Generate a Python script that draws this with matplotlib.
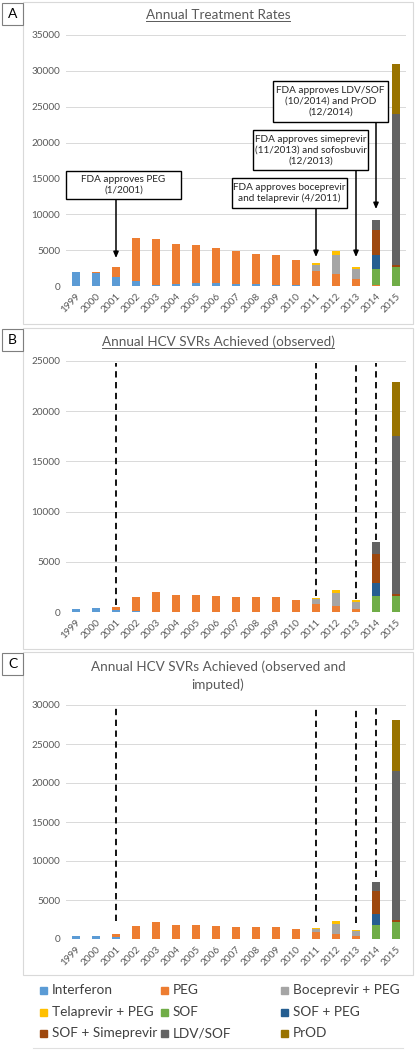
import matplotlib
matplotlib.use("Agg")
import matplotlib.pyplot as plt
from matplotlib.patches import Rectangle
from matplotlib.lines import Line2D

plt.rcParams['font.family'] = ['Lato', 'DejaVu Sans']

W, H = 415, 1050

years = [str(y) for y in range(1999, 2016)]
series = ['Interferon', 'PEG', 'Boceprevir + PEG', 'Telaprevir + PEG', 'SOF',
          'SOF + PEG', 'SOF + Simeprevir', 'LDV/SOF', 'PrOD']
colors = ['#5B9BD5', '#ED7D31', '#A5A5A5', '#FFC000', '#70AD47',
          '#255E91', '#9E480E', '#636363', '#997300']

# panel A: annual treatment rates
treated = {
    'Interferon': [2000, 1850, 1300, 740, 200, 250, 350, 350, 300, 250, 150, 100, 0, 0, 0, 0, 0],
    'PEG': [0, 100, 1400, 5910, 6420, 5560, 5370, 4950, 4580, 4260, 4130, 3520, 2090, 1630, 930, 140, 0],
    'Boceprevir + PEG': [0]*12 + [840, 2650, 1390, 0, 0],
    'Telaprevir + PEG': [0]*12 + [280, 600, 380, 0, 0],
    'SOF': [0]*15 + [2280, 2700],
    'SOF + PEG': [0]*15 + [1860, 0],
    'SOF + Simeprevir': [0]*15 + [3530, 230],
    'LDV/SOF': [0]*15 + [1390, 21000],
    'PrOD': [0]*16 + [6970],
}

# panel B: SVRs observed
svr_obs = {
    'Interferon': [330, 365, 230, 60, 30, 30, 30, 40, 30, 30, 20, 10, 0, 0, 0, 0, 0],
    'PEG': [0, 0, 300, 1470, 1960, 1700, 1700, 1590, 1430, 1430, 1480, 1190, 830, 600, 270, 0, 0],
    'Boceprevir + PEG': [0]*12 + [430, 1290, 760, 0, 0],
    'Telaprevir + PEG': [0]*12 + [140, 270, 170, 0, 0],
    'SOF': [0]*15 + [1630, 1630],
    'SOF + PEG': [0]*15 + [1300, 0],
    'SOF + Simeprevir': [0]*15 + [2890, 200],
    'LDV/SOF': [0]*15 + [1130, 15720],
    'PrOD': [0]*16 + [5320],
}

# panel C: SVRs observed and imputed
svr_imp = {
    'Interferon': [340, 340, 210, 60, 30, 30, 30, 40, 30, 30, 20, 10, 0, 0, 0, 0, 0],
    'PEG': [0, 0, 390, 1610, 2160, 1810, 1810, 1670, 1510, 1470, 1520, 1230, 860, 600, 340, 0, 0],
    'Boceprevir + PEG': [0]*12 + [430, 1370, 730, 0, 0],
    'Telaprevir + PEG': [0]*12 + [170, 340, 130, 0, 0],
    'SOF': [0]*15 + [1760, 2190],
    'SOF + PEG': [0]*15 + [1410, 0],
    'SOF + Simeprevir': [0]*15 + [2960, 210],
    'LDV/SOF': [0]*15 + [1200, 19200],
    'PrOD': [0]*16 + [6430],
}

# approval markers (year index, arrow tip / line bottom)
approval_idx = [2, 12, 14, 15]
approval_text = ['FDA approves PEG\n(1/2001)',
                 'FDA approves boceprevir\nand telaprevir (4/2011)',
                 'FDA approves simeprevir\n(11/2013) and sofosbuvir\n(12/2013)',
                 'FDA approves LDV/SOF\n(10/2014) and PrOD\n(12/2014)']
arrow_tip_a = [3900, 4040, 4040, 10730]
line_top_b = 24800
line_bottom_b = [660, 1560, 1330, 7150]
line_top_c = 29600
line_bottom_c = [2300, 2190, 2100, 8000]

fig = plt.figure(figsize=(W / 100, H / 100), dpi=100)
GRAY = '#595959'


def frac(x, y):
    return x / W, 1 - y / H


def box(x0, y0, x1, y1, ec, lw=0.8):
    fx, fy = frac(x0, y1)
    fig.add_artist(Rectangle((fx, fy), (x1 - x0) / W, (y1 - y0) / H, transform=fig.transFigure,
                             fill=False, ec=ec, lw=lw))


def make_axes(top, bottom):
    l, b = frac(66, bottom)
    return fig.add_axes([l, b, (406 - 66) / W, (bottom - top) / H])


def stacked(ax, data, ymax):
    x = list(range(len(years)))
    base = [0] * len(years)
    for name, c in zip(series, colors):
        vals = data[name]
        ax.bar(x, vals, 0.4, bottom=base, color=c, zorder=2)
        base = [b + v for b, v in zip(base, vals)]
    ax.set_xlim(-0.5, len(years) - 0.5)
    ax.set_ylim(0, ymax)
    ax.set_yticks(range(0, ymax + 1, 5000))
    ax.set_xticks(x)
    ax.set_xticklabels(years, rotation=45, ha='right', rotation_mode='anchor')
    ax.tick_params(length=0, labelsize=7.2, labelcolor=GRAY, pad=4)
    ax.grid(axis='y', color='#D9D9D9', lw=0.7, zorder=0)
    for s in ax.spines.values():
        s.set_visible(False)


def title(text, x, y, underline=False, size=9.7):
    t = fig.text(x / W, 1 - y / H, text, ha='center', va='center', fontsize=size,
                 color=GRAY, linespacing=1.5)
    if underline:
        fig.canvas.draw()
        bb = t.get_window_extent()
        yl = bb.y0 / H + 0.2 / H
        fig.add_artist(Line2D([bb.x0 / W, bb.x1 / W], [yl, yl], color=GRAY, lw=0.7,
                              transform=fig.transFigure))


# panel frames and letter labels
for (y0, y1, letter) in [(2, 324, 'A'), (328, 649, 'B'), (652, 975, 'C')]:
    box(23, y0, 413, y1, '#D9D9D9')
    box(2, y0 + 1, 23, y0 + 23, '#7F7F7F')
    fx, fy = frac(12.5, y0 + 12)
    fig.text(fx, fy, letter, ha='center', va='center', fontsize=10, color='black')

# A
axA = make_axes(35, 286)
stacked(axA, treated, 35000)
title('Annual Treatment Rates', 218, 15, underline=True)
rects = [(-0.5, 12130, 5.75, 3900), (7.8, 10870, 5.75, 4190),
         (8.85, 16170, 5.75, 5580), (9.85, 22860, 5.75, 5720)]
for (rx, ry, rw, rh), txt, i, tip in zip(rects, approval_text, approval_idx, arrow_tip_a):
    axA.add_patch(Rectangle((rx, ry), rw, rh, fc='white', ec='black', lw=1.0, zorder=4,
                            clip_on=False))
    axA.text(rx + rw / 2, ry + rh / 2, txt, ha='center', va='center', fontsize=7.2,
             color='#262626', zorder=5, linespacing=1.25)
    axA.annotate('', xy=(i, tip), xytext=(i, ry), zorder=3,
                 arrowprops=dict(arrowstyle='-|>,head_length=0.35,head_width=0.15',
                                 color='black', lw=1.1, shrinkA=0, shrinkB=0))

# B
axB = make_axes(361, 612)
stacked(axB, svr_obs, 25000)
title('Annual HCV SVRs Achieved (observed)', 218, 342, underline=True)
for i, yb in zip(approval_idx, line_bottom_b):
    axB.plot([i, i], [yb, line_top_b], color='black', lw=1.3, ls=(0, (3.5, 2.5)), zorder=3)

# C
axC = make_axes(705, 939)
stacked(axC, svr_imp, 30000)
title('Annual HCV SVRs Achieved (observed and\nimputed)', 218, 676)
for i, yb in zip(approval_idx, line_bottom_c):
    axC.plot([i, i], [yb, line_top_c], color='black', lw=1.3, ls=(0, (3.5, 2.5)), zorder=3)

# legend, filled row-wise like the original
col_x = [40, 161, 281]
row_y = [990, 1012, 1033]
for k, (name, c) in enumerate(zip(series, colors)):
    cx, ry = col_x[k % 3], row_y[k // 3]
    fx, fy = frac(cx, ry + 3.5)
    fig.add_artist(Rectangle((fx, fy), 7 / W, 7 / H, transform=fig.transFigure, color=c))
    tx, ty = frac(cx + 12, ry)
    fig.text(tx, ty, name, ha='left', va='center', fontsize=9.8, color='#404040')
fig.add_artist(Line2D([33 / W, 403 / W], [1 - 1048 / H] * 2, color='#E0E0E0', lw=0.8,
                      transform=fig.transFigure))

fig.savefig('out.png', dpi=100)
